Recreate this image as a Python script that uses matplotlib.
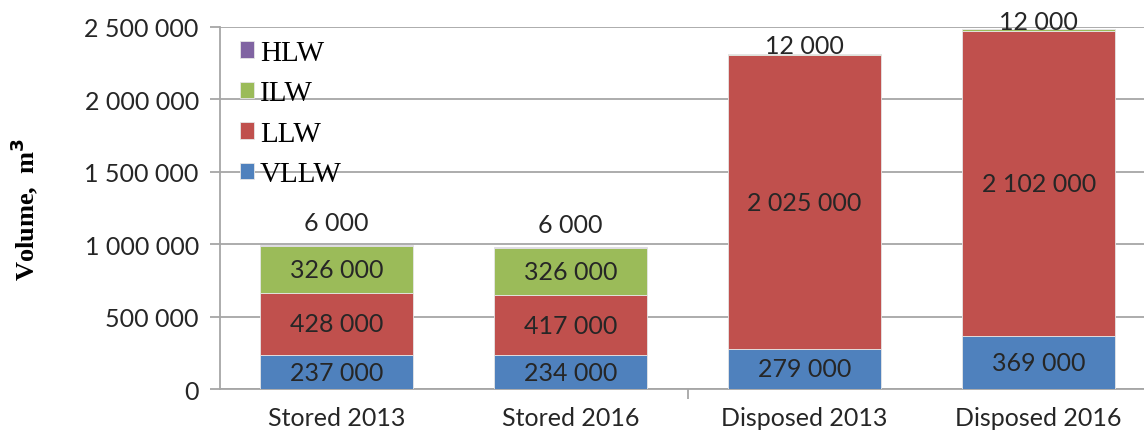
import numpy as np
import matplotlib
matplotlib.use("Agg")
import matplotlib.pyplot as plt
from matplotlib.ticker import FuncFormatter, FixedLocator

categories = ["Stored 2013", "Stored 2016", "Disposed 2013", "Disposed 2016"]
series_names = ["VLLW", "LLW", "ILW", "HLW"]
vllw = [237000, 234000, 279000, 369000]
llw = [428000, 417000, 2025000, 2102000]
ilw = [326000, 326000, 12000, 12000]
hlw = [6000, 6000, 0, 0]

colors = ["#4F81BD", "#C0504D", "#9BBB59", "#8064A2"]
grid_col = "#A6A6A6"
text_col = "#262626"


def fmt_num(v, pos=None):
    return "{:,}".format(int(v)).replace(",", " ")


fig = plt.figure(figsize=(11.44, 4.35), dpi=100)
ax = fig.add_axes([0.192, 0.103, 0.808, 0.833])

x = np.arange(len(categories))
width = 0.655
bottom = np.zeros(len(categories))
data = [vllw, llw, ilw, hlw]
bars = []
for name, vals, c in zip(series_names, data, colors):
    vals = np.array(vals, dtype=float)
    ax.bar(x, vals, width, bottom=bottom, color=c, edgecolor="#E6E6E6",
           linewidth=0.6, label=name, zorder=3)
    bars.append((name, vals, bottom.copy()))
    bottom = bottom + vals

label_font = dict(family="Lato", fontsize=18, color=text_col)
for name, vals, bot in bars:
    for i, v in enumerate(vals):
        if v <= 0:
            continue
        top = bot[i] + v
        if v > 100000:
            ax.text(x[i], bot[i] + v / 2, fmt_num(v), ha="center", va="center",
                    zorder=5, **label_font)
        else:
            off = 16 if name == "HLW" else 5.5
            ax.annotate(fmt_num(v), (x[i], top), xytext=(0, off),
                        textcoords="offset points", ha="center", va="center",
                        zorder=5, **label_font)

ax.set_xlim(-0.5, 3.45)
ax.set_ylim(0, 2500000)
ax.yaxis.set_major_locator(FixedLocator(np.arange(0, 2500001, 500000)))
ax.yaxis.set_major_formatter(FuncFormatter(fmt_num))
ax.grid(axis="y", color=grid_col, linewidth=1.3, zorder=0)
ax.set_axisbelow(True)

ax.set_xticks(x)
ax.set_xticklabels(categories)
ax.set_xticks([1.5], minor=True)
ax.tick_params(axis="x", which="major", length=0, pad=12)
ax.tick_params(axis="x", which="minor", length=7, color=grid_col, width=1.3)
ax.tick_params(axis="y", length=7, color=grid_col, width=1.3, pad=8)
for lab in ax.get_xticklabels() + ax.get_yticklabels():
    lab.set_family("Lato")
    lab.set_fontsize(18)
    lab.set_color(text_col)

for s in ["top", "right"]:
    ax.spines[s].set_visible(False)
for s in ["left", "bottom"]:
    ax.spines[s].set_color(grid_col)
    ax.spines[s].set_linewidth(1.3)

ax.set_ylabel("Volume,  m$^\\mathbf{3}$", family="Liberation Serif",
              fontweight="bold", fontsize=19, labelpad=32)

handles, labels = ax.get_legend_handles_labels()
leg = ax.legend(handles[::-1], labels[::-1], loc="upper left",
                bbox_to_anchor=(0.009, 0.997), frameon=False,
                prop=dict(family="Liberation Serif", size=21),
                handlelength=0.5, handleheight=0.5, handletextpad=0.2,
                labelspacing=0.5, borderaxespad=0.0)
leg.set_zorder(2)

fig.savefig("out.png", dpi=100)
